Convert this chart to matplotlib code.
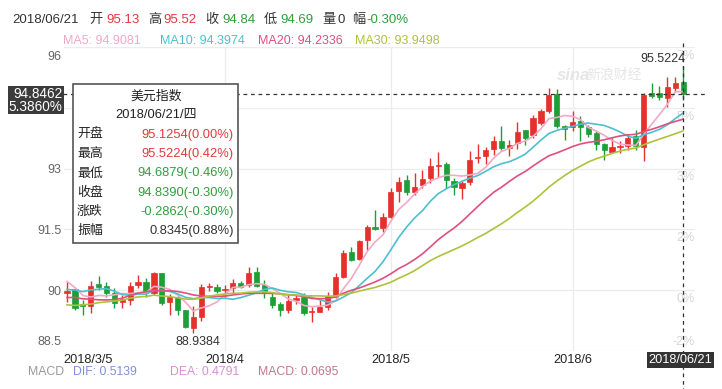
import numpy as np
import pandas as pd
import matplotlib
matplotlib.use("Agg")
import matplotlib.pyplot as plt
from matplotlib.patches import Rectangle
from matplotlib.transforms import blended_transform_factory

plt.rcParams['font.family'] = ['Liberation Sans', 'Noto Sans CJK SC']

W, H = 722, 389

# daily candles, 2018/3/5 .. 2018/06/21 (weekdays)
opens = [89.92, 90.02, 89.64, 89.60, 90.15, 90.11, 89.93, 89.72, 89.76, 90.13,
         90.21, 89.93, 90.42, 89.72, 89.84, 89.50, 89.06, 89.35, 90.08, 90.09,
         90.01, 90.05, 90.17, 90.13, 90.46, 90.13, 89.84, 89.65, 89.51, 89.76,
         89.84, 89.46, 89.47, 89.59, 89.84, 90.32, 90.95, 90.76, 91.24, 91.57,
         91.53, 91.81, 92.45, 92.72, 92.42, 92.60, 92.76, 93.06, 93.11, 92.70,
         92.51, 92.66, 93.25, 93.31, 93.49, 93.69, 93.52, 93.62, 93.95, 93.82,
         94.12, 94.41, 94.84, 94.06, 94.02, 94.18, 94.02, 93.88, 93.61, 93.42,
         93.53, 93.55, 93.81, 93.53, 94.86, 94.87, 94.74, 94.99, 95.13]
highs = [90.19, 90.06, 89.76, 90.23, 90.36, 90.19, 90.05, 89.88, 90.21, 90.38,
         90.31, 90.46, 90.42, 89.90, 89.88, 89.51, 89.60, 90.15, 90.18, 90.15,
         90.13, 90.27, 90.23, 90.58, 90.58, 90.25, 89.92, 89.72, 89.91, 89.88,
         89.92, 89.59, 89.77, 89.96, 90.42, 90.99, 91.07, 91.24, 91.61, 91.98,
         91.90, 92.53, 92.80, 92.84, 92.88, 92.97, 93.27, 93.40, 93.16, 92.76,
         92.69, 93.43, 93.60, 93.54, 93.81, 94.04, 93.71, 94.16, 93.95, 94.32,
         94.47, 94.99, 94.96, 94.08, 94.41, 94.29, 94.08, 93.92, 93.63, 93.75,
         93.67, 93.83, 93.96, 94.86, 95.11, 95.03, 95.27, 95.27, 95.52]
lows = [89.72, 89.50, 89.39, 89.43, 90.01, 89.84, 89.55, 89.55, 89.64, 90.05,
        89.84, 89.88, 89.64, 89.39, 89.39, 89.06, 88.94, 89.23, 89.97, 89.92,
        89.84, 89.92, 90.05, 90.09, 90.07, 89.80, 89.55, 89.36, 89.43, 89.66,
        89.39, 89.22, 89.47, 89.51, 89.80, 90.29, 90.71, 90.75, 91.00, 91.49,
        91.44, 91.79, 92.18, 92.35, 92.35, 92.51, 92.64, 92.80, 92.51, 92.35,
        92.25, 92.60, 93.13, 93.11, 93.34, 93.46, 93.30, 93.48, 93.58, 93.75,
        94.08, 94.37, 94.00, 93.71, 93.92, 93.67, 93.79, 93.46, 93.22, 93.38,
        93.38, 93.46, 93.46, 93.18, 94.74, 94.70, 94.53, 94.90, 94.69]
closes = [89.98, 89.55, 89.62, 90.11, 90.09, 89.93, 89.68, 89.78, 90.11, 90.19,
          89.97, 90.42, 89.68, 89.84, 89.50, 89.08, 89.33, 90.07, 90.10, 89.97,
          90.03, 90.17, 90.09, 90.42, 90.10, 89.94, 89.64, 89.51, 89.74, 89.80,
          89.43, 89.48, 89.59, 89.86, 90.33, 90.93, 90.75, 91.21, 91.55, 91.51,
          91.81, 92.43, 92.66, 92.42, 92.55, 92.74, 93.07, 93.09, 92.72, 92.55,
          92.65, 93.21, 93.29, 93.46, 93.67, 93.50, 93.57, 93.91, 93.75, 94.25,
          94.43, 94.82, 94.06, 93.98, 94.16, 94.02, 93.86, 93.61, 93.46, 93.53,
          93.56, 93.75, 93.55, 94.82, 94.78, 94.76, 95.01, 95.11, 94.84]
# closes before 2018/3/5, only used to warm up the moving averages
prior_closes = [90.0, 89.2, 89.5, 89.1, 89.3, 89.1, 89.1, 88.7, 89.2, 89.6,
                89.5, 90.3, 90.3, 90.4, 90.0, 89.5, 89.1, 88.7, 89.1, 89.3,
                89.7, 90.0, 89.7, 89.9, 89.8, 90.3, 90.6, 90.3, 89.9]

tick_pos = [0, 20, 41, 64]
tick_labels = ["2018/3/5", "2018/4", "2018/5", "2018/6"]
last_label = "2018/06/21"
y_ticks = [96, 94.5, 93, 91.5, 90, 88.5]
# 94.5 sits under the current-price box, so it has no label
y_tick_labels = ["96", "", "93", "91.5", "90", "88.5"]
pct_labels = ["7%", "5%", "3%", "2%", "0%", "-2%"]

ma_periods = [5, 10, 20, 30]
ma_colors = ["#f2a9c6", "#4cc0d0", "#e0507e", "#afc23a"]
ma_texts = ["MA5: 94.9081", "MA10: 94.3974", "MA20: 94.2336", "MA30: 93.9498"]
ma_text_x = [63, 160, 258, 355]

header_parts = [("2018/06/21", "#333333", 12), ("开", "#333333", 89),
                ("95.13", "#e0393e", 106), ("高", "#333333", 148),
                ("95.52", "#e0393e", 163), ("收", "#333333", 205),
                ("94.84", "#2f9e3c", 222), ("低", "#333333", 264),
                ("94.69", "#2f9e3c", 280), ("量", "#333333", 322),
                ("0", "#333333", 337), ("幅", "#333333", 352),
                ("-0.30%", "#2f9e3c", 366)]

tip_title = "美元指数"
tip_date = "2018/06/21/四"
tip_names = ["开盘", "最高", "最低", "收盘", "涨跌", "振幅"]
tip_values = ["95.1254(0.00%)", "95.5224(0.42%)", "94.6879(-0.46%)",
              "94.8390(-0.30%)", "-0.2862(-0.30%)", "0.8345(0.88%)"]
tip_colors = ["#e0393e", "#e0393e", "#2f9e3c", "#2f9e3c", "#2f9e3c", "#333333"]

macd_parts = [("MACD", "#999999", 28), ("DIF: 0.5139", "#7f8fd8", 73),
              ("DEA: 0.4791", "#d98ed9", 170), ("MACD: 0.0695", "#c47590", 258)]

UP, DOWN = "#e5312c", "#1e9e36"


def fx(x):
    return x / W


def fy(y):
    return 1 - y / H


fig = plt.figure(figsize=(W / 100, H / 100), dpi=100)
fig.patch.set_facecolor("white")
ax = fig.add_axes([fx(64), fy(351), fx(695) - fx(64), fy(47) - fy(351)])
ax.set_xlim(-0.38, 79.5)
ax.set_ylim(88.5, 96)
ax.set_axis_off()

# grid
for y in y_ticks:
    ax.axhline(y, color="#ececec", lw=0.9, zorder=0)
for p in tick_pos[1:]:
    ax.axvline(p, color="#ececec", lw=0.9, zorder=0)

# candles
n = len(closes)
for i in range(n):
    o, h, l, c = opens[i], highs[i], lows[i], closes[i]
    col = UP if c >= o else DOWN
    ax.vlines(i, l, h, color=col, lw=1.0, zorder=2)
    ax.add_patch(Rectangle((i - 0.33, min(o, c)), 0.66, max(abs(c - o), 0.03),
                           fc=col, ec=col, lw=0.5, zorder=3))

# moving averages
all_closes = pd.Series(prior_closes + closes)
for p, col in zip(ma_periods, ma_colors):
    ma = all_closes.rolling(p).mean().values[len(prior_closes):]
    ax.plot(np.arange(n), ma, color=col, lw=1.2, zorder=4)

# crosshair
ax.plot([-0.5, 81], [closes[-1], closes[-1]], color="#333333", lw=0.9,
        ls=(0, (3, 3)), clip_on=False, zorder=5)
ax.plot([n - 1, n - 1], [96.1, 87.4], color="#333333", lw=0.9,
        ls=(0, (3, 3)), clip_on=False, zorder=5)

# y labels left, percent labels right
trans = blended_transform_factory(ax.transAxes, ax.transData)
last = len(y_ticks) - 1
for k, (y, lab) in enumerate(zip(y_ticks, y_tick_labels)):
    if lab:
        va = "top" if k == 0 else ("bottom" if k == last else "center")
        dy = -3 if k == 0 else (2 if k == last else -1)
        ax.annotate(lab, (0, y), xycoords=trans, xytext=(-2, dy),
                    textcoords="offset points", ha="right", va=va,
                    fontsize=9, color="#666666", annotation_clip=False)
    pva = "bottom" if k == last else "top"
    pdy = 2 if k == last else -2
    ax.annotate(pct_labels[k], (1, y), xycoords=trans, xytext=(0, pdy),
                textcoords="offset points", ha="right", va=pva,
                fontsize=9, color="#d6d6d6", annotation_clip=False, zorder=1)

# x labels
xtrans = blended_transform_factory(ax.transData, ax.transAxes)
for p, lab in zip(tick_pos, tick_labels):
    ha = "left" if p == 0 else "center"
    xx = p - 0.45 if p == 0 else p
    ax.annotate(lab, (xx, 0), xycoords=xtrans, xytext=(0, -2),
                textcoords="offset points", ha=ha, va="top",
                fontsize=9.2, color="#222222", annotation_clip=False)
ax.annotate(last_label, (n - 1, 0), xycoords=xtrans, xytext=(-2, -2),
            textcoords="offset points", ha="center", va="top",
            fontsize=9.2, color="white", annotation_clip=False, zorder=8,
            bbox=dict(boxstyle="square,pad=0.15", fc="#333333", ec="none"))

# high / low marks
imax = int(np.argmax(highs))
imin = int(np.argmin(lows))
ax.annotate("%.4f" % 95.5224, (imax, highs[imax]), xytext=(2, 1),
            textcoords="offset points", ha="right", va="bottom",
            fontsize=9, color="#333333", annotation_clip=False, zorder=6)
ax.annotate("%.4f" % 88.9384, (imin, lows[imin]), xytext=(3, -2),
            textcoords="offset points", ha="center", va="top",
            fontsize=9, color="#333333", annotation_clip=False)

# watermark
fig.text(fx(573), fy(76), "sina", fontsize=12, style="italic",
         weight="bold", color="#e6e6e6", ha="center", va="center")
fig.text(fx(614), fy(75), "新浪财经", fontsize=10, color="#e6e6e6",
         ha="center", va="center")

# header rows
for txt, col, x in header_parts:
    fig.text(fx(x), fy(20), txt, fontsize=9.5, color=col, ha="left", va="center")
for txt, col, x in zip(ma_texts, ma_colors, ma_text_x):
    fig.text(fx(x), fy(41), txt, fontsize=9, color=col, ha="left", va="center")

# current price box on the left
fig.add_artist(Rectangle((fx(8), fy(114)), fx(64) - fx(8), fy(86) - fy(114),
                         transform=fig.transFigure, fc="#3b3b3b", ec="none",
                         zorder=6))
fig.text(fx(62), fy(94), "94.8462", fontsize=9.8, color="white",
         ha="right", va="center", zorder=7)
fig.text(fx(62), fy(107), "5.3860%", fontsize=9.8, color="white",
         ha="right", va="center", zorder=7)

# tooltip
fig.add_artist(Rectangle((fx(73), fy(243)), fx(238) - fx(73), fy(84) - fy(243),
                         transform=fig.transFigure, fc="white", ec="#555555",
                         lw=1.2, zorder=6))
fig.text(fx(156), fy(97), tip_title, fontsize=9.3, color="#222222",
         ha="center", va="center", zorder=7)
fig.text(fx(156), fy(116), tip_date, fontsize=9.3, color="#222222",
         ha="center", va="center", zorder=7)
for k, (name, val, col) in enumerate(zip(tip_names, tip_values, tip_colors)):
    yy = 135 + k * 19.2
    fig.text(fx(77), fy(yy), name, fontsize=9.3, color="#222222",
             ha="left", va="center", zorder=7)
    fig.text(fx(234), fy(yy), val, fontsize=9.3, color=col,
             ha="right", va="center", zorder=7)

# MACD line at the bottom
for txt, col, x in macd_parts:
    fig.text(fx(x), fy(372), txt, fontsize=8.8, color=col, ha="left", va="center")

fig.savefig("out.png", dpi=100, facecolor="white")
